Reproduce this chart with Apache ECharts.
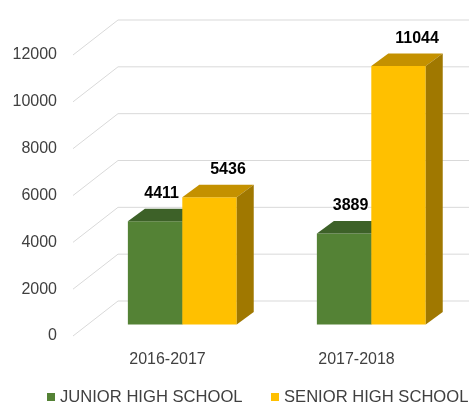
<!DOCTYPE html>
<html>
<head>
<meta charset="utf-8">
<script src="https://cdn.jsdelivr.net/npm/echarts@6/dist/echarts.min.js"></script>
<style>
  html, body { margin: 0; padding: 0; background: #fff; }
  #main { width: 469px; height: 404px; }
</style>
</head>
<body>
<div id="main"></div>
<script>
// data
var years = ['2016-2017', '2017-2018'];
var seriesNames = ['JUNIOR HIGH SCHOOL', 'SENIOR HIGH SCHOOL'];
var junior = [4411, 3889];
var senior = [5436, 11044];
var yTicks = [0, 2000, 4000, 6000, 8000, 10000, 12000];

// 3d look (pixels)
var WALL_DX = 45, WALL_DY = -35;     // floor depth, front -> back wall
var FLOOR_DX = 14.8, FLOOR_DY = -11.5; // where the bars stand
var DEPTH_DX = 17, DEPTH_DY = -12.5;   // bar depth
var BAR_FRAC = 0.288;
var FONT = '"Liberation Sans", Arial, sans-serif';

var colors = {
    green: { front: '#548235', top: '#3d6128', side: '#3a5c25' },
    yellow: { front: '#ffc000', top: '#c49100', side: '#a07800' }
};

function toPairs(arr) {
    return arr.map(function (v, i) { return [i, v]; });
}

function gridRender(params, api) {
    var cs = params.coordSys;
    var y = api.coord([0, api.value(1)])[1];
    var x = cs.x;
    return {
        type: 'polyline',
        shape: { points: [[x, y], [x + WALL_DX, y + WALL_DY], [x + cs.width + WALL_DX + 40, y + WALL_DY]] },
        style: { stroke: '#d9d9d9', lineWidth: 1, fill: null }
    };
}

function barRender(shift, c, labelDx, labelDy) {
    return function (params, api) {
        var cat = api.value(0), v = api.value(1);
        var base = api.coord([cat, 0]);
        var top = api.coord([cat, v]);
        var bw = api.size([1, 0])[0] * BAR_FRAC;
        var x0 = base[0] + shift * bw + FLOOR_DX;
        var yb = base[1] + FLOOR_DY;
        var yt = top[1] + FLOOR_DY;
        var x1 = x0 + bw;
        return {
            type: 'group',
            children: [
                { type: 'rect', shape: { x: x0, y: yt, width: bw, height: yb - yt }, style: { fill: c.front } },
                { type: 'polygon', shape: { points: [[x0, yt], [x1, yt], [x1 + DEPTH_DX, yt + DEPTH_DY], [x0 + DEPTH_DX, yt + DEPTH_DY]] }, style: { fill: c.top } },
                { type: 'polygon', shape: { points: [[x1, yt], [x1 + DEPTH_DX, yt + DEPTH_DY], [x1 + DEPTH_DX, yb + DEPTH_DY], [x1, yb]] }, style: { fill: c.side } },
                {
                    type: 'text',
                    style: {
                        text: String(v),
                        x: x0 + bw / 2 + DEPTH_DX / 2 + labelDx,
                        y: yt + DEPTH_DY + labelDy,
                        align: 'center', verticalAlign: 'middle',
                        fill: '#000', font: 'bold 16px ' + FONT
                    }
                }
            ]
        };
    };
}

function legendAt(name, left) {
    return {
        data: [name],
        left: left, top: 388, padding: 0,
        icon: 'rect', itemWidth: 8, itemHeight: 8,
        textStyle: { fontSize: 16.6, lineHeight: 18, color: '#404040', fontFamily: FONT }
    };
}

var myChart = echarts.init(document.getElementById('main'));
var option = {
    animation: false,
    grid: { left: 73, right: 18, top: 55, bottom: 68 },
    legend: [legendAt(seriesNames[0], 47), legendAt(seriesNames[1], 271)],
    xAxis: {
        type: 'category',
        data: years,
        axisLine: { show: false },
        axisTick: { show: false },
        axisLabel: { fontSize: 16, color: '#404040', fontFamily: FONT, margin: 16 }
    },
    yAxis: {
        type: 'value',
        min: yTicks[0], max: yTicks[yTicks.length - 1], interval: yTicks[1] - yTicks[0],
        axisLine: { show: false },
        axisTick: { show: false },
        splitLine: { show: false },
        axisLabel: {
            fontSize: 16, color: '#404040', fontFamily: FONT, margin: 16,
            formatter: function (v) { return String(v); }
        }
    },
    series: [
        {
            name: 'grid', type: 'custom', silent: true, z: 1,
            renderItem: gridRender,
            data: yTicks.map(function (t) { return [0, t]; }),
            encode: { x: 0, y: 1 }
        },
        {
            name: seriesNames[0], type: 'custom', z: 2,
            itemStyle: { color: colors.green.front },
            renderItem: barRender(-1, colors.green, -2, -15),
            data: toPairs(junior),
            encode: { x: 0, y: 1 }
        },
        {
            name: seriesNames[1], type: 'custom', z: 3,
            itemStyle: { color: colors.yellow.front },
            renderItem: barRender(0, colors.yellow, 10, -15),
            data: toPairs(senior),
            encode: { x: 0, y: 1 }
        }
    ]
};
myChart.setOption(option);
</script>
</body>
</html>
